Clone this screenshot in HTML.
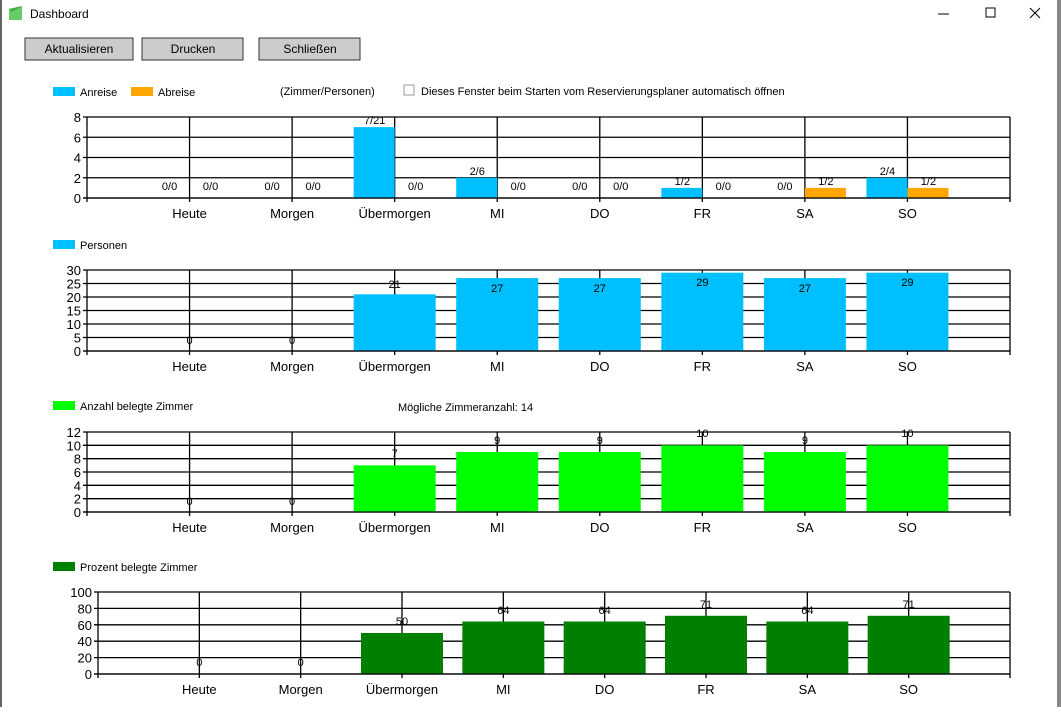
<!DOCTYPE html>
<html><head><meta charset="utf-8"><style>
body{margin:0;width:1061px;height:707px;overflow:hidden;background:#fff;font-family:"Liberation Sans",Arial,sans-serif}
svg text{font-family:"Liberation Sans",Arial,sans-serif}
</style></head><body>
<svg width="1061" height="707" xmlns="http://www.w3.org/2000/svg">
<rect x="1057" y="0" width="4" height="707" fill="#888"/>
<rect x="0" y="0" width="2" height="707" fill="#666"/>
<polygon points="9,9 22,6 22,20 9,20" fill="#6c6"/>
<polygon points="9,9 12,12 22,6" fill="#4a4"/>
<text x="30" y="18" font-size="12">Dashboard</text>
<line x1="938" y1="14" x2="949" y2="14" stroke="#000"/>
<rect x="986" y="8" width="9" height="9" fill="none" stroke="#000"/>
<path d="M1030 8 L1040 18 M1040 8 L1030 18" stroke="#000"/>
<g font-size="12" text-anchor="middle">
<rect x="25" y="38" width="108" height="22" fill="#ccc" stroke="#333"/><text x="79" y="53">Aktualisieren</text>
<rect x="142" y="38" width="101" height="22" fill="#ccc" stroke="#333"/><text x="193" y="53">Drucken</text>
<rect x="259" y="38" width="101" height="22" fill="#ccc" stroke="#333"/><text x="310" y="53">Schließen</text>
</g>
<g font-size="11">
<rect x="53" y="87" width="22" height="9" fill="#00bfff"/><text x="80" y="96">Anreise</text>
<rect x="131" y="87" width="22" height="9" fill="#ffa500"/><text x="158" y="96">Abreise</text>
<text x="280" y="95">(Zimmer/Personen)</text>
<rect x="404" y="85" width="10" height="10" fill="#fff" stroke="#999"/>
<text x="421" y="95">Dieses Fenster beim Starten vom Reservierungsplaner automatisch öffnen</text>
<rect x="53" y="240" width="22" height="9" fill="#00bfff"/><text x="80" y="249">Personen</text>
<rect x="53" y="401" width="22" height="9" fill="#00ff00"/><text x="80" y="410">Anzahl belegte Zimmer</text>
<text x="398" y="411">Mögliche Zimmeranzahl: 14</text>
<rect x="53" y="562" width="22" height="9" fill="#008000"/><text x="80" y="571">Prozent belegte Zimmer</text>
</g>
<g id="charts"></g>
</svg>
<script>
const g=document.getElementById('charts');const NS='http://www.w3.org/2000/svg';
function el(t,a,txt){const e=document.createElementNS(NS,t);for(const k in a)e.setAttribute(k,a[k]);if(txt!==undefined)e.textContent=txt;g.appendChild(e);return e;}
const cats=['Heute','Morgen','Übermorgen','MI','DO','FR','SA','SO'];
function chart(o){const {L,R,T,B,max,step}=o;const dx=(R-L)/9;
 const y=v=>B-(B-T)*v/max;
 for(let v=0;v<=max;v+=step){el('line',{x1:L-4,x2:R,y1:y(v),y2:y(v),stroke:'#000','stroke-width':1.3});
  el('text',{x:L-6,y:y(v)+5,'font-size':13,'text-anchor':'end'},v);}
 for(let i=0;i<=9;i++){const x=L+dx*i;el('line',{x1:x,x2:x,y1:T,y2:B+4,stroke:'#000','stroke-width':1.3});
  if(i>=1&&i<=8)el('text',{x:x,y:B+20,'font-size':13,'text-anchor':'middle'},cats[i-1]);}
 o.draw(L,dx,y);
 el('line',{x1:L-4,x2:R,y1:B,y2:B,stroke:'#000','stroke-width':1.3});
 o.labels&&o.labels(L,dx,y);}
function lab(x,yy,t){el('text',{x:x,y:yy,'font-size':11,'text-anchor':'middle'},t);}
const an=[0,0,7,2,0,1,0,2],ab=[0,0,0,0,0,0,1,1],anl=['0/0','0/0','7/21','2/6','0/0','1/2','0/0','2/4'],abl=['0/0','0/0','0/0','0/0','0/0','0/0','1/2','1/2'];
chart({L:87,R:1010,T:117,B:198,max:8,step:2,draw:(L,dx,y)=>{for(let i=0;i<8;i++){const c=L+dx*(i+1);
 if(an[i])el('rect',{x:c-41,y:y(an[i]),width:41,height:198-y(an[i]),fill:'#00bfff'});
 if(ab[i])el('rect',{x:c,y:y(ab[i]),width:41,height:198-y(ab[i]),fill:'#ffa500'});}},
 labels:(L,dx,y)=>{for(let i=0;i<8;i++){const c=L+dx*(i+1);
 lab(c-20,an[i]?y(an[i])-3:190,anl[i]);lab(c+21,ab[i]?y(ab[i])-3:190,abl[i]);}}});
function simple(T,B,L,max,step,vals,col,lys){chart({L:L,R:1010,T:T,B:B,max:max,step:step,draw:(L,dx,y)=>{for(let i=0;i<8;i++){const c=L+dx*(i+1);
 if(vals[i])el('rect',{x:c-41,y:y(vals[i]),width:82,height:B-y(vals[i]),fill:col});}},
 labels:(L,dx,y)=>{for(let i=0;i<8;i++){const c=L+dx*(i+1);lab(c,lys[i],vals[i]);}}});}
simple(270,351,87,30,5,[0,0,21,27,27,29,27,29],'#00bfff',[344,344,288,292,292,286,292,286]);
simple(432,512,87,12,2,[0,0,7,9,9,10,9,10],'#00ff00',[505,505,457,444,444,437,444,437]);
simple(592,674,98,100,20,[0,0,50,64,64,71,64,71],'#008000',[666,666,625,614,614,608,614,608]);
</script>
</body></html>
